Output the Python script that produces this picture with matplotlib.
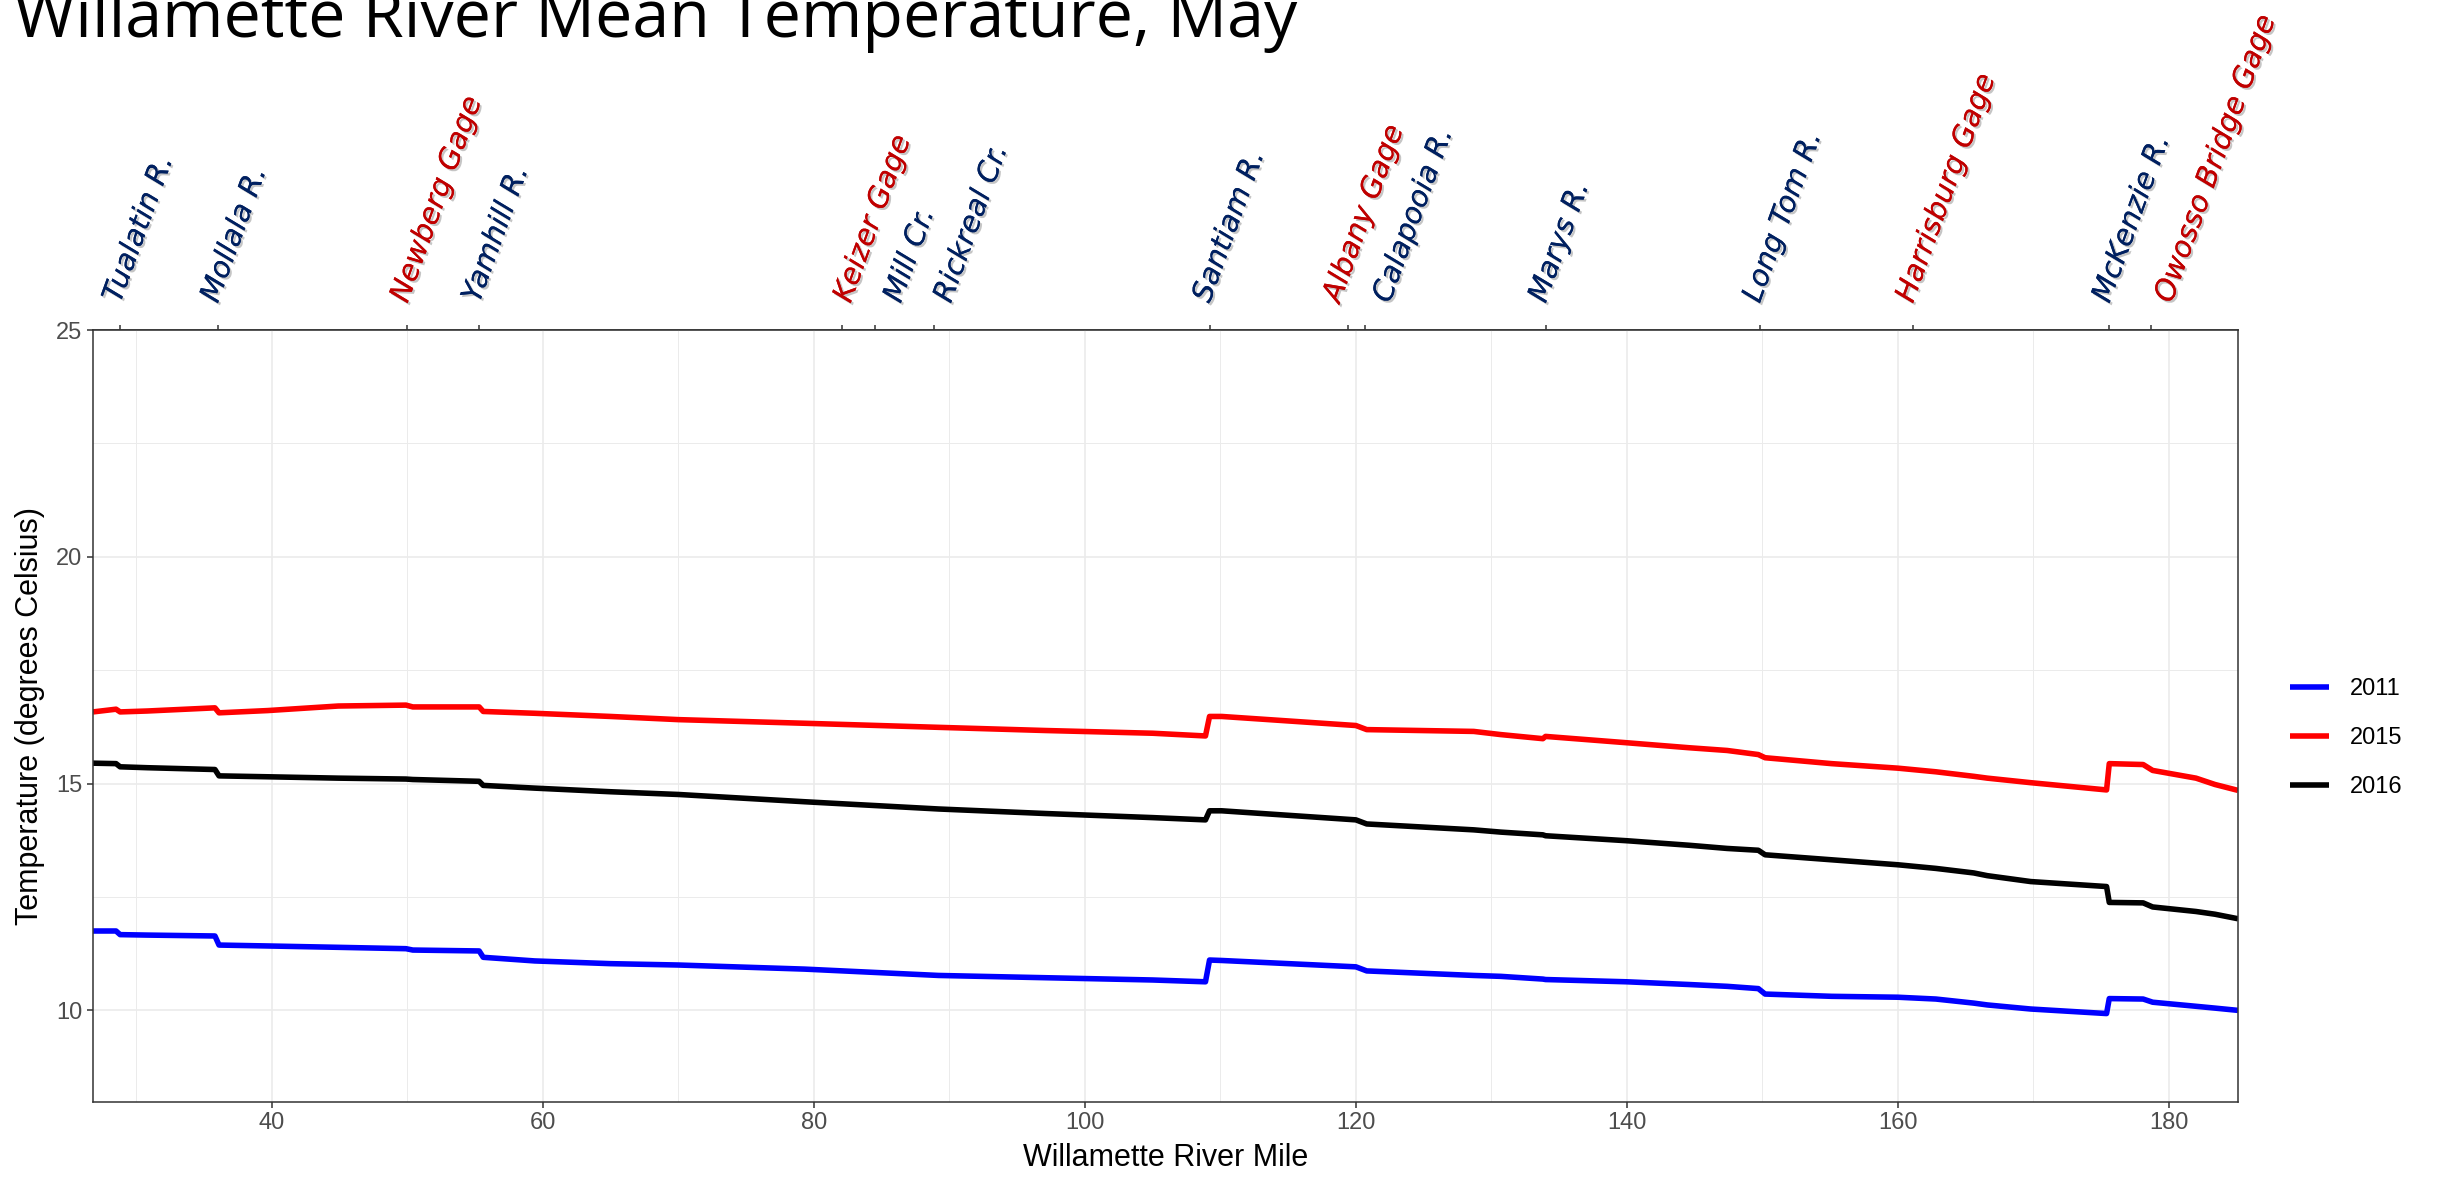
"Willamette River mean May temperature by river mile"

import matplotlib
matplotlib.use("Agg")
import matplotlib.pyplot as plt
import matplotlib.patheffects as pe
from matplotlib.ticker import MultipleLocator

# river mile where the profile was read, with vertical steps as repeated miles
river_mile = [26.8, 28.5, 28.8, 30.8, 35.8, 36.1, 39.7, 44.9, 49.9, 50.4,
              55.3, 55.6, 59.4, 65.0, 70.0, 79.3, 89.2, 97.1, 105.0, 108.9,
              109.2, 110.1, 120.0, 120.8, 128.7, 130.7, 133.8, 134.0, 140.0, 144.6,
              147.4, 149.7, 150.2, 155.1, 160.0, 162.8, 165.6, 166.6, 169.8, 175.4,
              175.6, 178.1, 178.8, 182.0, 183.4, 185.1]

temp_2011 = [11.75, 11.75, 11.67, 11.66, 11.64, 11.44, 11.42, 11.39, 11.36, 11.33,
             11.31, 11.17, 11.09, 11.03, 11.00, 10.91, 10.77, 10.72, 10.67, 10.63,
             11.11, 11.10, 10.96, 10.87, 10.77, 10.75, 10.69, 10.68, 10.63, 10.57,
             10.53, 10.48, 10.36, 10.31, 10.29, 10.25, 10.16, 10.12, 10.03, 9.93,
             10.26, 10.25, 10.18, 10.09, 10.05, 10.00]

temp_2015 = [16.58, 16.64, 16.58, 16.60, 16.67, 16.56, 16.61, 16.71, 16.73, 16.69,
             16.69, 16.59, 16.55, 16.48, 16.41, 16.33, 16.24, 16.17, 16.11, 16.05,
             16.48, 16.48, 16.28, 16.19, 16.15, 16.08, 15.99, 16.04, 15.90, 15.79,
             15.73, 15.64, 15.57, 15.44, 15.34, 15.26, 15.16, 15.12, 15.02, 14.86,
             15.44, 15.42, 15.29, 15.12, 14.98, 14.85]

temp_2016 = [15.45, 15.44, 15.37, 15.35, 15.31, 15.17, 15.15, 15.12, 15.10, 15.09,
             15.05, 14.96, 14.90, 14.82, 14.76, 14.60, 14.44, 14.34, 14.25, 14.20,
             14.40, 14.40, 14.20, 14.11, 13.98, 13.93, 13.87, 13.85, 13.74, 13.64,
             13.57, 13.53, 13.43, 13.32, 13.21, 13.13, 13.03, 12.97, 12.84, 12.73,
             12.38, 12.37, 12.28, 12.18, 12.12, 12.02]

years = ["2011", "2015", "2016"]
year_colors = ["#0000FF", "#FF0000", "#000000"]

# tributaries and gages marked along the top (tick mile, and mile where the label sits)
site_mile = [28.8, 36.0, 50.0, 55.3, 82.1, 84.5, 88.9, 109.2, 119.4, 120.7,
             134.0, 149.8, 161.1, 175.6, 178.7]
label_mile = [28.8, 36.0, 50.0, 55.3, 82.7, 86.4, 90.1, 109.2, 118.8, 122.5,
              134.0, 149.8, 161.1, 175.6, 180.2]
site_name = ["Tualatin R.", "Mollala R.", "Newberg Gage", "Yamhill R.", "Keizer Gage",
             "Mill Cr.", "Rickreal Cr.", "Santiam R.", "Albany Gage", "Calapooia R.",
             "Marys R.", "Long Tom R.", "Harrisburg Gage", "McKenzie R.", "Owosso Bridge Gage"]
site_is_gage = [False, False, True, False, True, False, False, False, True, False,
                False, False, True, False, True]

W, H, DPI = 2442, 1177, 100
fig = plt.figure(figsize=(W / DPI, H / DPI), dpi=DPI)
ax = fig.add_axes([93 / W, 1 - 1102 / H, (2238 - 93) / W, (1102 - 330) / H])

for temps, name, col in zip([temp_2011, temp_2015, temp_2016], years, year_colors):
    ax.plot(river_mile, temps, color=col, lw=4, label=name, solid_capstyle="butt")

ax.set_xlim(26.8, 185.1)
ax.set_ylim(7.98, 25.0)
ax.xaxis.set_major_locator(MultipleLocator(20))
ax.xaxis.set_minor_locator(MultipleLocator(10))
ax.yaxis.set_major_locator(MultipleLocator(5))
ax.yaxis.set_minor_locator(MultipleLocator(2.5))
ax.grid(True, which="major", color="#EBEBEB", lw=1.2)
ax.grid(True, which="minor", color="#EBEBEB", lw=0.7)
ax.set_axisbelow(True)
for sp in ax.spines.values():
    sp.set_color("#333333")
    sp.set_linewidth(1.1)
ax.tick_params(which="major", length=4.5, width=1.1, color="#333333",
               labelsize=17, labelcolor="#4D4D4D", pad=3)
ax.tick_params(which="minor", length=0)
for lab in ax.get_xticklabels() + ax.get_yticklabels():
    lab.set_fontfamily("Liberation Sans")

ax.set_xlabel("Willamette River Mile", fontsize=22, family="Liberation Sans", labelpad=6)
ax.set_ylabel("Temperature (degrees Celsius)", fontsize=22, family="Liberation Sans", labelpad=8)

# short ticks at each site on the top edge
top = ax.secondary_xaxis("top")
top.set_xticks(site_mile, labels=[""] * len(site_mile))
top.tick_params(axis="x", length=3.5, width=1.1, color="#333333")
top.spines["top"].set_color("#333333")
top.spines["top"].set_linewidth(1.1)

# site names, rotated, with a soft drop shadow
shadow = [pe.withSimplePatchShadow(offset=(1.5, -1.5), shadow_rgbFace="#7F7F7F", alpha=0.45),
          pe.Normal()]
lab_trans = ax.get_xaxis_transform()
for m, name, is_gage in zip(label_mile, site_name, site_is_gage):
    t = ax.text(m, 1.0, name, transform=lab_trans, rotation=70, rotation_mode="anchor",
                ha="left", va="baseline", color="#C00000" if is_gage else "#002060",
                fontstyle="italic", fontsize=21, family="DejaVu Sans", path_effects=shadow)
    t.set_y(1.0 + 26 / (1102 - 330))

fig.legend(loc="center left", bbox_to_anchor=(2290 / W, 1 - 738 / H), frameon=False,
           prop={"family": "Liberation Sans", "size": 17}, handlelength=1.65,
           handletextpad=0.9, labelspacing=1.15, borderpad=0, borderaxespad=0)

fig.text(14 / W, 1 - 37 / H, "Willamette River Mean Temperature, May",
         fontsize=47.8, family="Open Sans", va="baseline", ha="left")

fig.savefig("out.png", dpi=DPI)
